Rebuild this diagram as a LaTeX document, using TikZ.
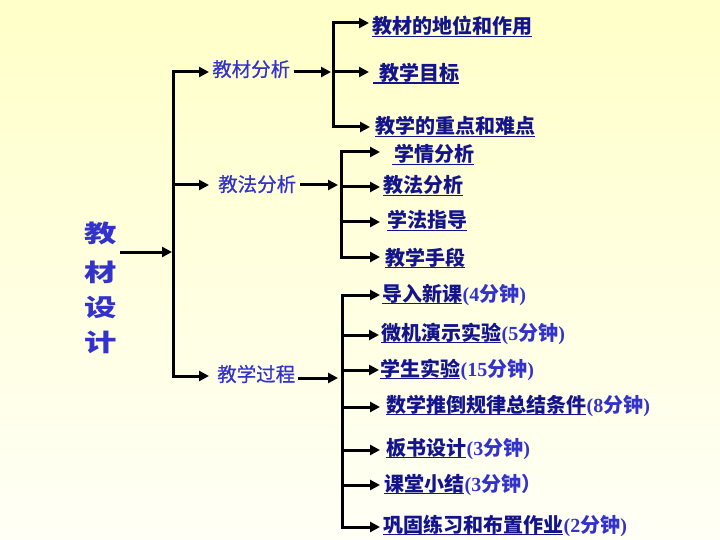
\documentclass[tikz,border=0pt]{standalone}
\usepackage{fontspec}
\setmainfont{Liberation Serif}
\newfontfamily\cjk{Noto Sans CJK SC}
\newfontfamily\cjkm[FakeBold=0.6]{Noto Sans CJK SC}
\usetikzlibrary{arrows.meta}
\definecolor{bgtop}{HTML}{FFFFC8}
\definecolor{bgbot}{HTML}{FFFFF6}
\definecolor{lvone}{HTML}{3333CC}
\definecolor{leafc}{HTML}{14148C}
\tikzset{
  arr/.style={line width=3pt, -{Triangle[length=10pt,width=10pt]}},
  trunk/.style={line width=3pt},
  ttl/.style={inner sep=0pt, anchor=base, text=lvone, font=\fontsize{24}{24}\cjk\bfseries},
  lvl/.style={inner sep=0pt, anchor=base west, text=lvone, font=\fontsize{19.5}{20}\cjkm},
  leaf/.style={inner sep=0pt, anchor=base west, text=leafc, font=\fontsize{20}{20}\cjk\bfseries},
  mins/.style={inner sep=0pt, anchor=base west, text=lvone, font=\fontsize{20}{20}\bfseries},
  ul/.style={line width=1.6pt, draw=leafc},
}
\newcommand{\fz}{{\cjk 分钟}}
\begin{document}
\begin{tikzpicture}[x=1pt,y=-1pt]
\useasboundingbox (0,0) rectangle (720,540);
\shade[top color=bgtop, bottom color=bgbot] (0,0) rectangle (720,540);

% title
\node[ttl] (t1) at (101,243) {\scalebox{1.35}[1]{教}};
\node[ttl] (t2) at (101,281) {\scalebox{1.35}[1]{材}};
\node[ttl] (t3) at (101,316.5) {\scalebox{1.35}[1]{设}};
\node[ttl] (t4) at (101,351) {\scalebox{1.35}[1]{计}};

% level one
\node[lvl] (m1) at (212,76.5) {教材分析};
\node[lvl] (m2) at (218,191.5) {教法分析};
\node[lvl] (m3) at (217,381.5) {教学过程};

% main trunk
\coordinate (Ms) at (120,252);
\coordinate (Mj) at (172,252);
\coordinate (Mt) at (173,72);
\coordinate (Mb) at (173,376);
\coordinate (m1t) at (209,72);
\coordinate (m2t) at (209,185);
\coordinate (m3t) at (209,376);
\draw[arr] (Ms) -- (Mj);
\draw[arr] (Mb) -- (Mt) -- (m1t);
\draw[arr] (Mt) -- (Mb) -- (m3t);
\draw[arr] (Mt |- m2t) -- (m2t);

% branch A
\coordinate (As) at (294,72);
\coordinate (Aj) at (331,72);
\coordinate (At) at (333,23);
\coordinate (Ab) at (333,127);
\coordinate (a1t) at (369,23);
\coordinate (a2t) at (369,72);
\coordinate (a3t) at (370,127);
\draw[arr] (As) -- (Aj);
\draw[arr] (Ab) -- (At) -- (a1t);
\draw[arr] (At) -- (Ab) -- (a3t);
\draw[arr] (At |- a2t) -- (a2t);

\node[leaf] (a1) at (372,34) {教材的地位和作用};
\node[leaf] (a2) at (379,80.5) {教学目标};
\node[leaf] (a3) at (375,134) {教学的重点和难点};
\draw[ul] ([yshift=-2.5pt]a1.base west) -- ([yshift=-2.5pt]a1.base east);
\draw[ul] ([xshift=-6pt,yshift=-2.5pt]a2.base west) -- ([yshift=-2.5pt]a2.base east);
\draw[ul] ([yshift=-2.5pt]a3.base west) -- ([yshift=-2.5pt]a3.base east);

% branch B
\coordinate (Bs) at (300,185);
\coordinate (Bj) at (338,185);
\coordinate (Bt) at (341,152);
\coordinate (Bb) at (341,257);
\coordinate (b1t) at (380,152);
\coordinate (b2t) at (380,187);
\coordinate (b3t) at (380,222);
\coordinate (b4t) at (380,257);
\draw[arr] (Bs) -- (Bj);
\draw[arr] (Bb) -- (Bt) -- (b1t);
\draw[arr] (Bt) -- (Bb) -- (b4t);
\draw[arr] (Bt |- b2t) -- (b2t);
\draw[arr] (Bt |- b3t) -- (b3t);

\node[leaf] (b1) at (394,162) {学情分析};
\node[leaf] (b2) at (383,193) {教法分析};
\node[leaf] (b3) at (387,228) {学法指导};
\node[leaf] (b4) at (385,265) {教学手段};
\foreach \n in {b2,b3,b4}
  \draw[ul] ([yshift=-2.5pt]\n.base west) -- ([yshift=-2.5pt]\n.base east);
\draw[ul] ([xshift=-2pt,yshift=-2.5pt]b1.base west) -- ([yshift=-2.5pt]b1.base east);

% branch C
\coordinate (Cs) at (298,378);
\coordinate (Cj) at (338,378);
\coordinate (Ct) at (342,295);
\coordinate (Cb) at (342,527);
\coordinate (c1t) at (380,295);
\coordinate (c2t) at (379,335);
\coordinate (c3t) at (379,370);
\coordinate (c4t) at (380,407);
\coordinate (c5t) at (380,450);
\coordinate (c6t) at (380,485);
\coordinate (c7t) at (380,527);
\draw[arr] (Cs) -- (Cj);
\draw[arr] (Cb) -- (Ct) -- (c1t);
\draw[arr] (Ct) -- (Cb) -- (c7t);
\foreach \c in {c2t,c3t,c4t,c5t,c6t}
  \draw[arr] (Ct |- \c) -- (\c);

\node[leaf] (c1) at (382,301) {导入新课};
\node[leaf] (c2) at (381,340) {微机演示实验};
\node[leaf] (c3) at (380,376) {学生实验};
\node[leaf] (c4) at (386,412) {数学推倒规律总结条件};
\node[leaf] (c5) at (386,455) {板书设计};
\node[leaf] (c6) at (384,491) {课堂小结};
\node[leaf] (c7) at (383,532) {巩固练习和布置作业};
\foreach \n in {c1,c2,c3,c4,c5,c6,c7}
  \draw[ul] ([yshift=-2.5pt]\n.base west) -- ([yshift=-2.5pt]\n.base east);

\node[mins] (d1) at (c1.base east) {(4\fz)};
\node[mins] (d2) at (c2.base east) {(5\fz)};
\node[mins] (d3) at (c3.base east) {(15\fz)};
\node[mins] (d4) at (c4.base east) {(8\fz)};
\node[mins] (d5) at (c5.base east) {(3\fz)};
\node[mins] (d6) at (c6.base east) {(3{\cjk 分钟）}};
\node[mins] (d7) at (c7.base east) {(2\fz)};
\end{tikzpicture}
\end{document}
